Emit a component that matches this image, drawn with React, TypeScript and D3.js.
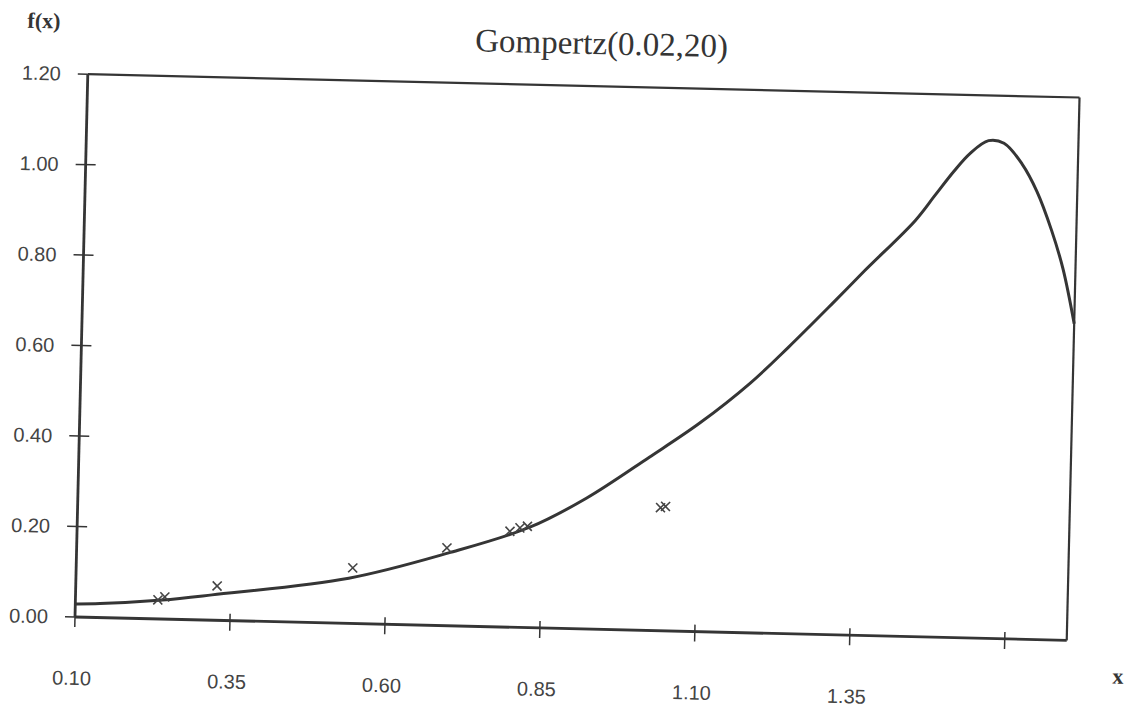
import * as d3 from 'd3';

// curve
const curveX = [0.10, 0.14, 0.24, 0.32, 0.54, 0.70, 0.83, 0.92, 1.02, 1.10, 1.18, 1.24, 1.31, 1.36, 1.44, 1.47, 1.50, 1.525, 1.555, 1.58, 1.61, 1.635, 1.66, 1.68, 1.70];
const curveY = [0.029, 0.031, 0.042, 0.056, 0.100, 0.161, 0.222, 0.289, 0.383, 0.461, 0.552, 0.633, 0.733, 0.806, 0.920, 0.975, 1.030, 1.070, 1.100, 1.095, 1.050, 0.990, 0.905, 0.820, 0.700];

// sample points (x marks)
const markX = [0.233, 0.244, 0.328, 0.546, 0.697, 0.798, 0.814, 0.826, 1.040, 1.048];
const markY = [0.042, 0.049, 0.076, 0.123, 0.172, 0.212, 0.220, 0.224, 0.272, 0.275];

const xTicks = [0.10, 0.35, 0.60, 0.85, 1.10, 1.35, 1.60];
const xTickLabels = ['0.10', '0.35', '0.60', '0.85', '1.10', '1.35', ''];
const yTicks = [0, 0.2, 0.4, 0.6, 0.8, 1.0, 1.2];
const yTickLabels = ['0.00', '0.20', '0.40', '0.60', '0.80', '1.00', '1.20'];

const title = 'Gompertz(0.02,20)';

export default function App() {
  const width = 1137;
  const height = 710;
  const left = 75;
  const right = 1067;
  const bottom = 617;
  const top = 74;
  const ink = '#353535';

  const x = d3.scaleLinear().domain([0.1, 1.7]).range([left, right]);
  const y = d3.scaleLinear().domain([0, 1.2]).range([bottom, top]);

  const line = d3
    .line<number>()
    .x((d, i) => x(curveX[i]))
    .y((d) => y(d))
    .curve(d3.curveCatmullRom.alpha(0.5));

  const cross = d3.symbol(d3.symbolTimes, 55)();

  return (
    <svg
      width={width}
      height={height}
      style={{ position: 'absolute', left: 0, top: 0, background: '#fff' }}
    >
      {/* the scan is tilted slightly clockwise */}
      <g transform={`rotate(1.35, ${left}, ${bottom})`}>
        <text
          x={588}
          y={42}
          textAnchor="middle"
          fontFamily="'Liberation Serif', 'DejaVu Serif', serif"
          fontSize={33}
          fill={ink}
        >
          {title}
        </text>
        <text
          x={30}
          y={29}
          textAnchor="middle"
          fontFamily="'Liberation Serif', serif"
          fontWeight="bold"
          fontSize={22}
          fill={ink}
        >
          f(x)
        </text>
        <text
          x={1119}
          y={659}
          textAnchor="middle"
          fontFamily="'Liberation Serif', serif"
          fontWeight="bold"
          fontSize={22}
          fill={ink}
        >
          x
        </text>

        {/* frame */}
        <line x1={left} x2={right} y1={top} y2={top} stroke={ink} strokeWidth={2.2} />
        <line x1={right} x2={right} y1={top} y2={bottom} stroke={ink} strokeWidth={2.2} />
        <line x1={left} x2={right} y1={bottom} y2={bottom} stroke={ink} strokeWidth={2.8} />
        <line x1={left} x2={left} y1={top} y2={bottom} stroke={ink} strokeWidth={2.8} />

        {xTicks.map((t, i) => (
          <g key={`xt${i}`}>
            <line x1={x(t)} x2={x(t)} y1={bottom - 7} y2={bottom + 10} stroke={ink} strokeWidth={1.5} />
            <text
              x={x(t) - 2}
              y={bottom + 68}
              textAnchor="middle"
              fontFamily="'Liberation Sans', Arial, sans-serif"
              fontSize={20}
              fill="#444"
            >
              {xTickLabels[i]}
            </text>
          </g>
        ))}

        {yTicks.map((t, i) => (
          <g key={`yt${i}`}>
            <line x1={left - 10} x2={left + (i === yTicks.length - 1 ? 0 : 10)} y1={y(t)} y2={y(t)} stroke={ink} strokeWidth={1.5} />
            <text
              x={left - 27}
              y={y(t)}
              dy="0.35em"
              textAnchor="end"
              fontFamily="'Liberation Sans', Arial, sans-serif"
              fontSize={20}
              fill="#444"
            >
              {yTickLabels[i]}
            </text>
          </g>
        ))}

        <path d={line(curveY) ?? ''} fill="none" stroke={ink} strokeWidth={3} strokeLinejoin="round" />

        {markX.map((mx, i) => (
          <path
            key={`m${i}`}
            d={cross ?? ''}
            transform={`translate(${x(mx)}, ${y(markY[i])})`}
            fill="none"
            stroke="#444"
            strokeWidth={1.6}
          />
        ))}
      </g>
    </svg>
  );
}
